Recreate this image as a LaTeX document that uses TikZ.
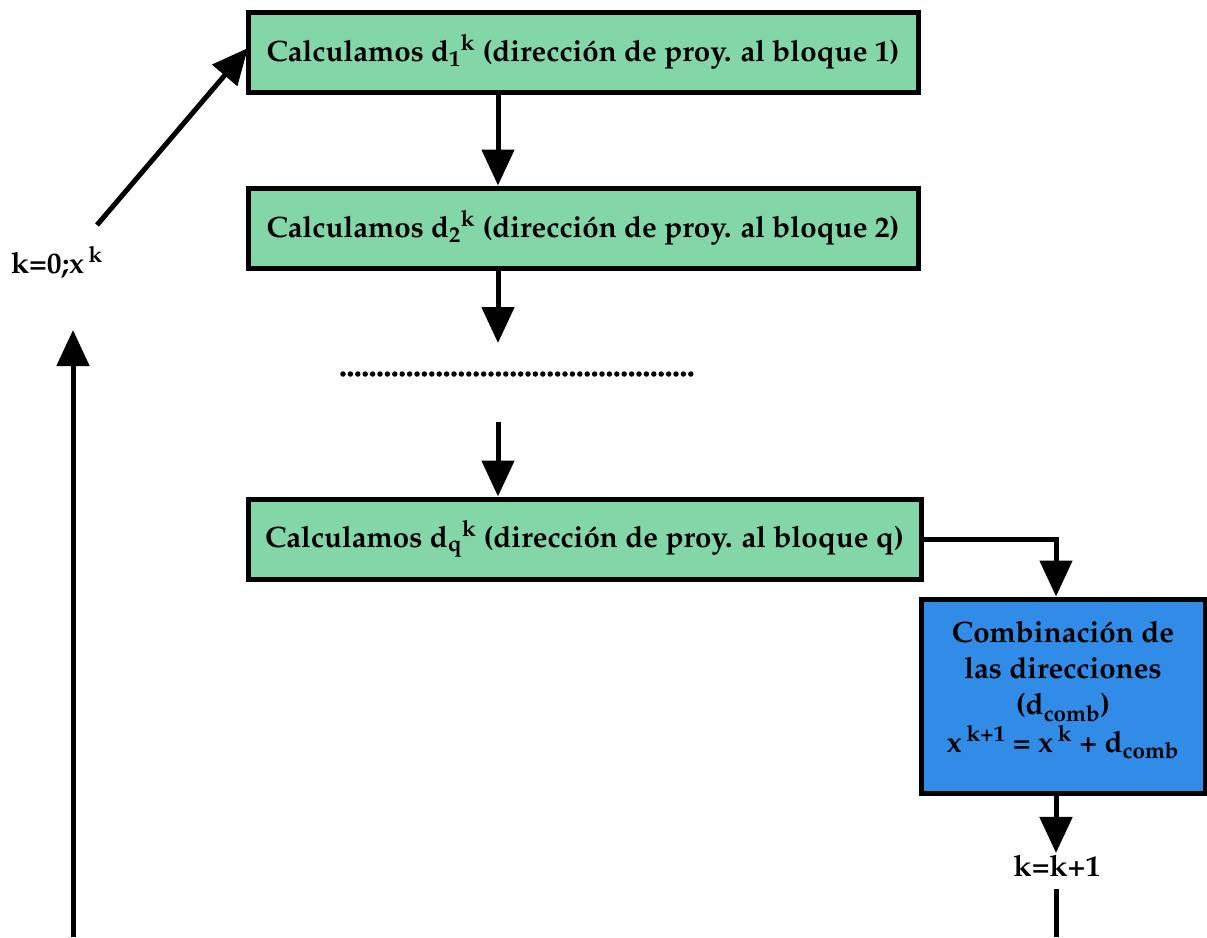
\documentclass[tikz,border=0pt]{standalone}
\usepackage[T1]{fontenc}
\usepackage{mathpazo}
\usetikzlibrary{arrows.meta}
\definecolor{boxgreen}{RGB}{130,214,168}
\definecolor{boxblue}{RGB}{48,140,230}
\tikzset{
  base/.style={font=\fontsize{29.5}{36}\selectfont\bfseries},
  gbox/.style={base,draw=black,line width=5pt,fill=boxgreen,minimum width=670pt,minimum height=80pt,inner sep=0pt},
  bbox/.style={base,draw=black,line width=5pt,fill=boxblue,minimum width=284pt,minimum height=194pt,inner sep=0pt,align=center},
  lbl/.style={base,inner sep=2pt},
  arr/.style={line width=5pt,-{Triangle[width=32pt,length=36pt]}},
  ln/.style={line width=5pt},
  dots/.style={line width=5.5pt,line cap=round,dash pattern=on 0pt off 7.4pt}
}
\newcommand{\dsub}[2]{d\textsubscript{#1}\textsuperscript{#2}}
\begin{document}
\begin{tikzpicture}[x=1pt,y=-1pt]
\useasboundingbox (0,0) rectangle (1207,937);
\node[gbox] (b1) at (583,52) {Calculamos \dsub{1}{k} (direcci\'on de proy. al bloque 1)};
\node[gbox] (b2) at (583,228) {Calculamos \dsub{2}{k} (direcci\'on de proy. al bloque 2)};
\node[gbox,minimum width=673pt] (bq) at (584.5,539) {Calculamos \dsub{q}{k} (direcci\'on de proy. al bloque q)};
\node[bbox] (bl) at (1063,696) {\raisebox{-2pt}[0pt][0pt]{\begin{tabular}{@{}c@{}}Combinaci\'on de\\las direcciones\\(d\textsubscript{comb})\\ x\,\textsuperscript{k+1} = x\,\textsuperscript{k} + d\textsubscript{comb}\end{tabular}}};
\node[lbl] (kk) at (1057,866) {k=k+1};
\node[lbl] (k0) at (57,262) {k=0;x\,\textsuperscript{k}};
\coordinate (ax) at (498,0);
\coordinate (bx) at (1056,0);
\coordinate (d1) at (498,343);
\coordinate (d2) at (498,422);
\coordinate (dl) at (343,374);
\coordinate (dr) at (692,374);
\coordinate (kb) at (1056,937);
\coordinate (lb) at (73,937);
\coordinate (lt) at (73,330);
\coordinate (ds) at (97,225);
\coordinate (dt) at (248,48);
\draw[arr] (b1.south -| ax) -- (b2.north -| ax);
\draw[arr] (b2.south -| ax) -- (d1);
\draw[dots] (dl) -- (dr);
\draw[arr] (d2) -- (bq.north -| ax);
\draw[arr] (bq.east) -| (bl.north -| bx);
\draw[arr] (bl.south -| bx) -- (kk.north -| bx);
\draw[ln] (kk.south -| bx) ++(0,10) -- (kb);
\draw[arr] (lb) -- (lt);
\draw[arr] (ds) -- (dt);
\end{tikzpicture}
\end{document}
